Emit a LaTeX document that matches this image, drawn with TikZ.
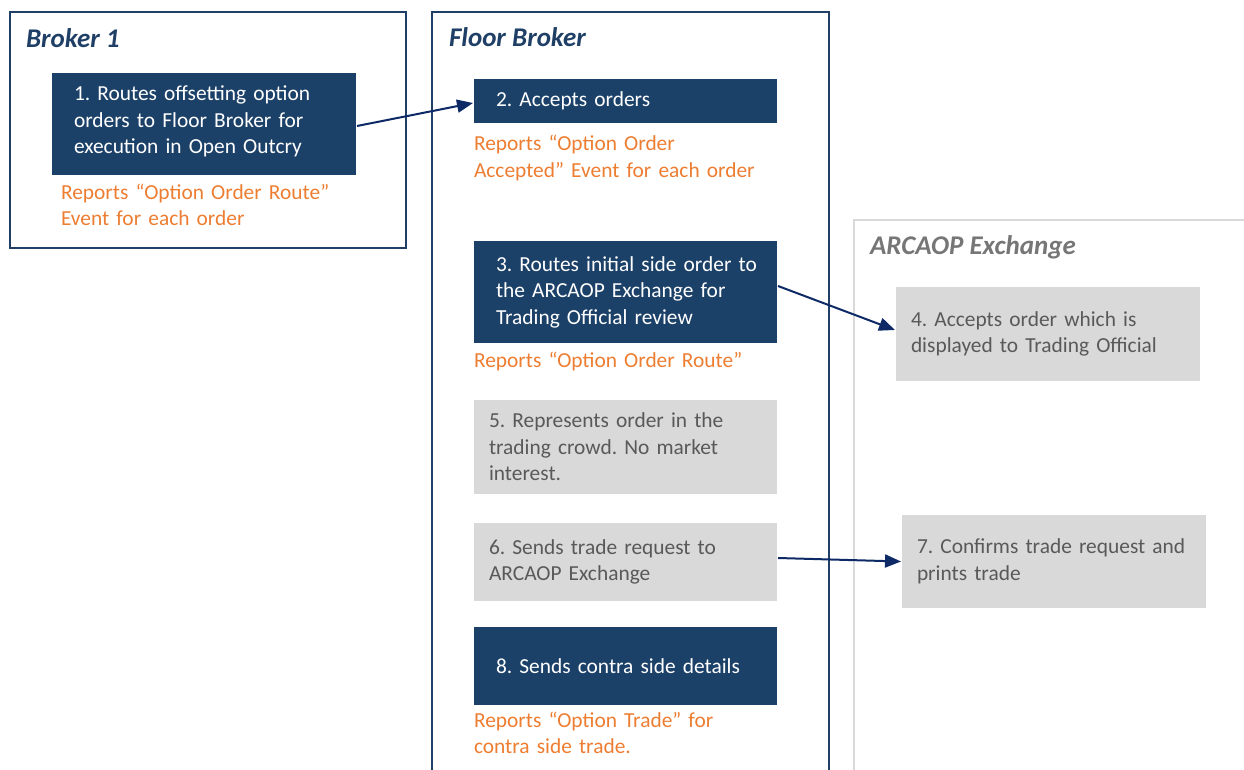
\documentclass[tikz,border=0pt]{standalone}
\usepackage{fontspec}
\setmainfont{Carlito}
\usetikzlibrary{arrows.meta}
\definecolor{navybox}{HTML}{1C4168}
\definecolor{navyframe}{HTML}{1F3F66}
\definecolor{navyarrow}{HTML}{0E2A66}
\definecolor{reportorange}{HTML}{ED7D31}
\definecolor{greybox}{HTML}{D9D9D9}
\definecolor{greytext}{HTML}{595959}
\definecolor{greytitle}{HTML}{767676}
\newcommand{\boxfont}{\fontsize{21.4}{26.5}\selectfont\frenchspacing}
\begin{document}
\begin{tikzpicture}[x=1pt,y=-1pt,>={Triangle[length=16pt,width=13pt]},line width=2pt,
		darkstep/.style={fill=navybox,text=white,anchor=north west,inner xsep=22pt,inner ysep=0pt,align=left,font=\boxfont},
		greystep/.style={fill=greybox,text=greytext,anchor=north west,inner xsep=15pt,inner ysep=0pt,align=left,font=\boxfont},
		report/.style={text=reportorange,anchor=north west,inner sep=0pt,align=left,font=\boxfont},
		lanetitle/.style={anchor=base west,inner sep=0pt,font=\fontsize{27}{32}\selectfont\bfseries\itshape}]
			\useasboundingbox (0,0) rectangle (1244,770);
			\draw[navyframe] (10,12) rectangle (406,248);
			\draw[navyframe] (432,775) -- (432,12) -- (829,12) -- (829,775);
			\draw[greybox] (854,775) -- (854,220) -- (1250,220);
			\node[lanetitle,text=navyframe] (broker) at (25,48) {Broker 1};
			\node[lanetitle,text=navyframe] (floor) at (448,47) {Floor Broker};
			\node[lanetitle,text=greytitle] (arcaop) at (869,254) {ARCAOP Exchange};
			\node[darkstep,text width=260pt,minimum width=304pt,minimum height=102pt] (box1) at (51,72) {1. Routes offsetting option\\orders to Floor Broker for\\execution in Open Outcry\vspace{5pt}};
			\node[report,text width=300pt] (rep1) at (60,183) {Reports “Option Order Route”\\Event for each order};
			\node[darkstep,text width=259pt,minimum width=303pt,minimum height=44pt] (box2) at (473,78) {2. Accepts orders};
			\node[report,text width=300pt] (rep2) at (473,134.5) {Reports “Option Order\\Accepted” Event for each order};
			\node[darkstep,text width=259pt,minimum width=303pt,minimum height=102pt] (box3) at (473,240) {\mbox{3. Routes initial side order to}\\the ARCAOP Exchange for\\Trading Official review};
			\node[report,text width=300pt] (rep3) at (473,351) {Reports “Option Order Route”};
			\node[greystep,text width=274pt,minimum width=304pt,minimum height=94pt] (box4) at (895,286) {4. Accepts order which is\\displayed to Trading Official};
			\node[greystep,text width=273pt,minimum width=303pt,minimum height=94pt] (box5) at (473,399) {5. Represents order in the\\trading crowd. No market\\interest.};
			\node[greystep,text width=273pt,minimum width=303pt,minimum height=78pt] (box6) at (473,522) {6. Sends trade request to\\ARCAOP Exchange};
			\node[greystep,text width=274pt,minimum width=304pt,minimum height=93pt] (box7) at (901,514) {7. Confirms trade request and\\prints trade};
			\node[darkstep,text width=259pt,minimum width=303pt,minimum height=78pt] (box8) at (473,626) {8. Sends contra side details};
			\node[report,text width=300pt] (rep8) at (473,711) {Reports “Option Trade” for\\contra side trade.};
			\draw[->,navyarrow] ([yshift=-2pt]box1.east) -- ([yshift=-2pt]box2.west);
			\draw[->,navyarrow] ([yshift=6pt]box3.east) -- ([yshift=4pt]box4.west);
			\draw[->,navyarrow] ([yshift=4pt]box6.east) -- (box7.west);
		\end{tikzpicture}
\end{document}
